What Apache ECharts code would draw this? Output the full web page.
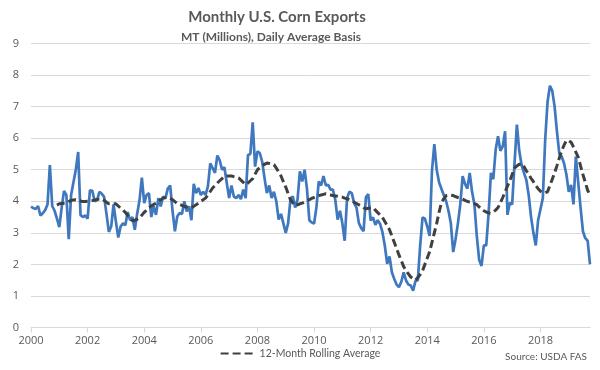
<!DOCTYPE html>
<html>
<head>
<meta charset="utf-8">
<script src="https://cdn.jsdelivr.net/npm/echarts@6/dist/echarts.min.js"></script>
<style>html,body{margin:0;padding:0;background:#fff}#c{width:600px;height:370px}</style>
</head>
<body>
<div id="c"></div>
<script>
// Monthly categories Jan 2000 .. Oct 2019
var startYear = 2000;
var monthCount = 238;
var categories = [];
for (var i = 0; i < monthCount; i++) {
  var y = startYear + Math.floor(i / 12), m = (i % 12) + 1;
  categories.push(y + '-' + (m < 10 ? '0' + m : m));
}
var tickLabels = ['2000','2002','2004','2006','2008','2010','2012','2014','2016','2018'];

// Monthly exports, MT (millions), daily average basis
var monthlyExports = [
  3.83,3.78,3.76,3.85,3.55,3.62,3.72,3.9,5.15,3.85,3.7,3.45,
  3.18,3.8,4.33,4.2,2.8,4.2,4.6,5.0,5.56,3.56,3.5,3.55,
  3.45,4.35,4.33,4.0,4.03,4.3,4.24,4.14,3.6,3.03,3.2,3.9,
  3.35,2.85,3.2,3.3,3.24,3.66,3.4,3.5,3.1,3.6,4.03,4.75,
  3.94,4.2,4.26,3.5,3.84,3.57,4.1,3.84,4.15,4.1,4.4,4.5,
  3.7,3.05,3.52,3.63,3.6,4.0,3.68,3.84,3.4,4.55,4.26,4.42,
  4.2,4.3,4.2,4.47,5.2,5.05,4.9,5.45,5.3,5.0,5.08,4.58,
  4.1,4.5,4.15,4.1,4.2,4.07,4.37,4.1,5.47,5.5,6.5,5.1,
  5.58,5.53,5.26,4.74,4.26,4.5,4.1,4.3,4.0,3.42,3.6,3.3,
  3.0,3.3,4.05,4.16,3.8,4.05,4.95,4.63,5.0,4.4,3.4,3.33,
  3.29,3.8,4.63,4.5,4.8,4.5,4.52,4.37,4.37,4.05,3.42,3.7,
  3.3,2.75,4.1,4.3,4.26,3.94,3.8,3.31,3.15,3.05,4.13,4.23,
  3.39,3.49,3.25,3.4,3.28,3.02,2.6,2.02,2.25,1.75,1.54,1.36,
  1.28,1.45,1.75,1.49,1.36,1.33,1.17,1.47,1.5,2.6,3.49,3.45,
  3.2,2.9,4.97,5.81,5.0,4.6,4.4,4.2,4.0,3.7,3.3,2.39,
  2.8,3.3,3.9,4.8,4.55,4.4,4.9,4.3,3.9,2.9,2.15,1.95,
  2.6,2.6,3.6,4.9,4.7,5.63,6.06,5.6,5.74,6.22,3.57,3.95,
  3.9,5.2,6.43,5.6,5.15,4.9,4.68,4.2,3.5,3.0,2.6,3.4,
  3.75,4.1,5.95,7.15,7.66,7.5,7.0,6.2,5.5,5.42,5.2,4.85,
  4.3,4.52,3.9,5.42,4.6,3.8,3.05,2.83,2.75,2.0
];

// 12-month rolling average
var rollingAverage = [
  null,null,null,null,null,null,null,null,null,null,null,3.88,
  3.92,3.93,3.94,3.95,3.99,4.03,4.04,4.05,4.03,4.01,3.99,3.99,
  4.0,4.0,4.02,4.04,4.06,4.07,4.08,4.03,3.97,3.92,3.92,3.92,
  3.92,3.85,3.78,3.72,3.65,3.55,3.46,3.38,3.4,3.43,3.47,3.56,
  3.65,3.72,3.8,3.85,3.9,3.94,4.0,4.05,4.1,4.11,4.11,4.1,
  4.05,3.99,3.93,3.9,3.87,3.84,3.82,3.8,3.79,3.84,3.89,3.94,
  3.99,4.05,4.1,4.2,4.31,4.42,4.5,4.58,4.65,4.72,4.79,4.8,
  4.8,4.8,4.78,4.76,4.74,4.67,4.6,4.53,4.58,4.65,4.72,4.86,
  5.0,5.06,5.12,5.17,5.21,5.2,5.18,5.16,5.05,4.93,4.8,4.62,
  4.45,4.25,4.05,3.95,3.86,3.89,3.92,3.94,3.98,4.02,4.05,4.09,
  4.12,4.16,4.18,4.2,4.22,4.24,4.22,4.2,4.18,4.17,4.16,4.14,
  4.13,4.1,4.08,4.05,4.01,3.97,3.93,3.89,3.85,3.8,3.76,3.78,
  3.79,3.8,3.72,3.64,3.57,3.49,3.36,3.23,3.1,2.9,2.7,2.5,
  2.3,2.12,1.93,1.8,1.7,1.6,1.55,1.5,1.58,1.68,1.8,2.0,
  2.2,2.4,2.7,3.0,3.3,3.65,3.95,4.08,4.18,4.2,4.19,4.18,
  4.15,4.12,4.1,4.07,4.03,4.0,3.97,3.95,3.92,3.9,3.82,3.75,
  3.7,3.66,3.63,3.62,3.66,3.72,3.8,3.95,4.12,4.3,4.48,4.65,
  4.85,5.05,5.12,5.17,5.2,5.1,4.97,4.85,4.73,4.62,4.5,4.4,
  4.32,4.27,4.27,4.3,4.5,4.7,4.9,5.13,5.37,5.6,5.78,5.93,
  5.92,5.87,5.72,5.56,5.4,5.12,4.85,4.6,4.35,4.2
];

var chart = echarts.init(document.getElementById('c'), null, {renderer: 'canvas'});
var FONT = 'Open Sans';
var TFONT = 'Lato';
var TXT = '#595959';
var showTick = function (idx) { return idx % 24 === 0; };
chart.setOption({
  animation: false,
  backgroundColor: '#ffffff',
  title: [
    {text: 'Monthly U.S. Corn Exports', left: 272, top: 5, textAlign: 'center',
     textStyle: {fontFamily: TFONT, fontSize: 15, fontWeight: 'bold', color: TXT}},
    {text: 'MT (Millions), Daily Average Basis', left: 266, top: 26, textAlign: 'center',
     textStyle: {fontFamily: TFONT, fontSize: 12, fontWeight: 'bold', color: TXT}},
    {text: 'Source: USDA FAS', right: 8, bottom: 3,
     textStyle: {fontFamily: TFONT, fontSize: 10, fontWeight: 'normal', color: TXT}}
  ],
  legend: {
    data: ['12-Month Rolling Average'],
    bottom: 6, left: 'center',
    itemWidth: 34, itemHeight: 10, itemGap: 10,
    itemStyle: {color: 'transparent', borderColor: 'transparent', borderWidth: 0},
    textStyle: {fontFamily: TFONT, fontSize: 10.5, color: TXT}
  },
  grid: {left: 31, right: 10, top: 43.5, bottom: 42.5, containLabel: false},
  xAxis: {
    type: 'category', data: categories, boundaryGap: false,
    axisLine: {lineStyle: {color: '#d9d9d9', width: 1}},
    axisTick: {show: true, interval: showTick, length: 5, lineStyle: {color: '#d9d9d9'}},
    axisLabel: {interval: showTick, color: TXT, fontFamily: FONT, fontSize: 11, margin: 8,
      formatter: function (v, idx) { return tickLabels[idx / 24] || ''; }},
    splitLine: {show: false}
  },
  yAxis: {
    type: 'value', min: 0, max: 9, interval: 1,
    axisLine: {show: false}, axisTick: {show: false},
    axisLabel: {color: TXT, fontFamily: FONT, fontSize: 11, margin: 12},
    splitLine: {lineStyle: {color: '#d9d9d9', width: 1}}
  },
  series: [
    {name: 'Monthly Exports', type: 'line', data: monthlyExports, symbol: 'none',
     lineStyle: {color: '#3F78BF', width: 2.7}, itemStyle: {color: '#3F78BF'}, z: 2},
    {name: '12-Month Rolling Average', type: 'line', data: rollingAverage, symbol: 'none',
     lineStyle: {color: '#404040', width: 3, type: [8, 4]}, itemStyle: {color: '#404040'}, z: 3}
  ]
});
</script>
</body>
</html>
